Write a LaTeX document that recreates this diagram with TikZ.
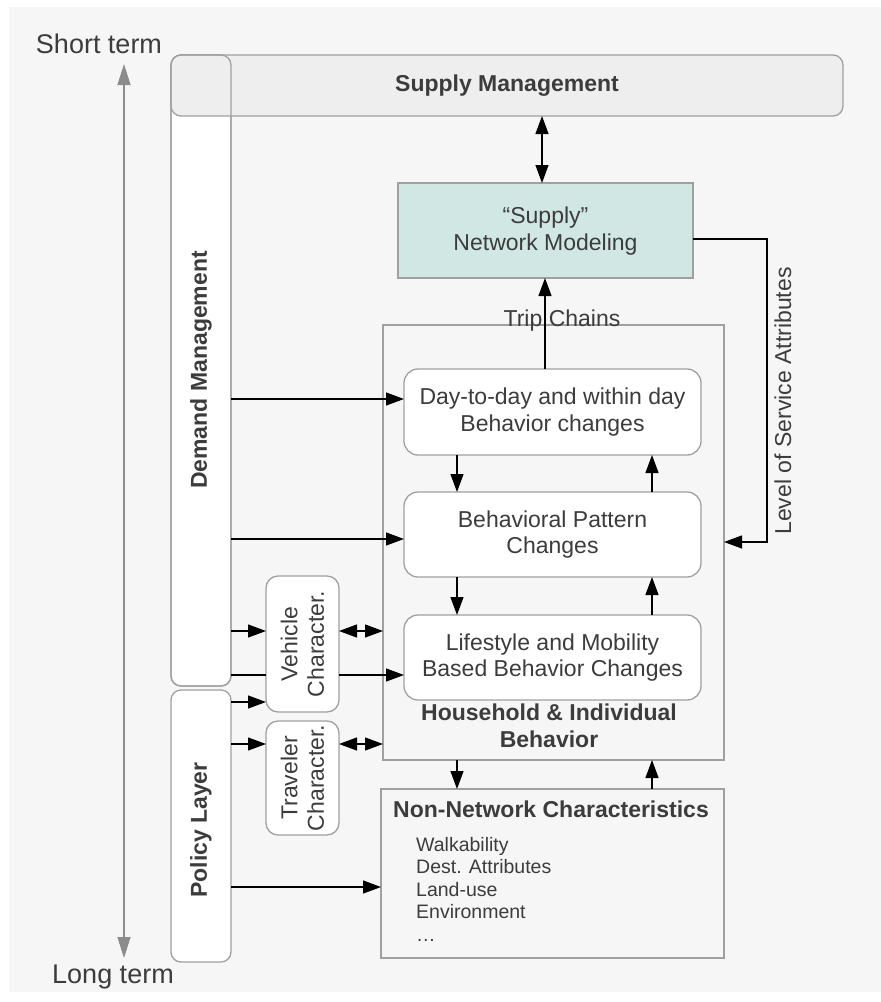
\documentclass[tikz,border=0pt]{standalone}
\usepackage{fontspec}
\setmainfont{Liberation Sans}
\usetikzlibrary{arrows.meta,calc}
\definecolor{bgc}{HTML}{F6F6F6}
\definecolor{smfill}{HTML}{EEEEEE}
\definecolor{netfill}{HTML}{D0E7E3}
\definecolor{bord}{HTML}{A0A0A0}
\definecolor{txt}{HTML}{3C3C3C}
\definecolor{gar}{HTML}{8C8C8C}
\tikzset{
  box/.style={draw=bord,line width=1.3pt,inner sep=0pt,outer sep=0pt,text=txt},
  rbox/.style={box,rounded corners=14pt,fill=white},
  lbl/.style={text=txt,inner sep=0pt,align=center,font=\fontsize{23}{26.5}\selectfont},
  blbl/.style={lbl,font=\fontsize{23}{26.5}\selectfont\bfseries},
  arr/.style={draw=black,line width=1.2pt,-{Triangle[length=18pt,width=13pt]}},
  darr/.style={draw=black,line width=1.2pt,{Triangle[length=18pt,width=13pt]}-{Triangle[length=18pt,width=13pt]}},
  garr/.style={draw=gar,line width=1.2pt,{Triangle[length=21pt,width=13pt]}-{Triangle[length=21pt,width=13pt]}},
}
\begin{document}
\begin{tikzpicture}[x=1pt,y=-1pt]
\useasboundingbox (0,0) rectangle (881,1002);
\fill[bgc] (9,7) rectangle (881,992);
% helper rows / columns
\coordinate (r0) at (0,239);
\coordinate (r1) at (0,399);
\coordinate (r2) at (0,539);
\coordinate (rL) at (0,542);
\coordinate (r3) at (0,631);
\coordinate (r4) at (0,675);
\coordinate (r5) at (0,702);
\coordinate (r6) at (0,744);
\coordinate (r7) at (0,887);
\coordinate (cL) at (457,0);
\coordinate (cR) at (652,0);
\coordinate (cT) at (545,0);
\coordinate (cS) at (542,0);
\coordinate (cLoS) at (767,0);
% time axis
\node[text=txt,inner sep=0pt,font=\fontsize{27}{30}\selectfont] (short) at (99,44) {Short term};
\node[text=txt,inner sep=0pt,font=\fontsize{27}{30}\selectfont] (long) at (113,977) {Long term};
\coordinate (vt) at (124,64);
\coordinate (vb) at (124,958);
\draw[garr] (vb) -- (vt);
% side boxes
\node[box,rounded corners=10pt,fill=white,minimum width=60pt,minimum height=631pt] (demand) at (201,370.5) {};
\node[box,rounded corners=10pt,fill=smfill,minimum width=672pt,minimum height=61pt] (supply) at (507,85.5) {};
\draw[bord,line width=1.3pt,rounded corners=10pt] (171,55) rectangle (231,686);
\node[blbl] at (supply.center) {Supply Management};
\node[blbl,rotate=90] at (201,370) {Demand Management};
\node[box,rounded corners=10pt,fill=white,minimum width=60pt,minimum height=272pt] (policy) at (201,826) {};
\node[blbl,rotate=90] at (201,830) {Policy Layer};
% network modeling
\node[box,fill=netfill,minimum width=295pt,minimum height=95pt] (net) at (545.5,230.5) {};
\node[lbl] at (545.5,231) {“Supply”\\Network Modeling};
% household
\node[box,minimum width=341pt,minimum height=435pt] (hh) at (553.5,542.5) {};
\node[rbox,minimum width=297pt,minimum height=86pt] (day) at (552.5,412) {};
\node[lbl] at (day.center) {Day-to-day and within day\\Behavior changes};
\node[rbox,minimum width=297pt,minimum height=85pt] (beh) at (552.5,534.5) {};
\node[lbl] at (beh.center) {Behavioral Pattern\\Changes};
\node[rbox,minimum width=297pt,minimum height=85pt] (life) at (552.5,657.5) {};
\node[lbl] at (life.center) {Lifestyle and Mobility\\Based Behavior Changes};
\node[blbl] at (549,726) {Household \& Individual\\Behavior};
% characteristics boxes
\node[rbox,rounded corners=12pt,minimum width=73pt,minimum height=136pt] (veh) at (302.5,644) {};
\node[lbl,rotate=90] at (veh.center) {Vehicle\\Character.};
\node[rbox,rounded corners=12pt,minimum width=73pt,minimum height=114pt] (trav) at (302.5,778) {};
\node[lbl,rotate=90] at (trav.center) {Traveler\\Character.};
% non-network
\node[box,minimum width=343pt,minimum height=169pt] (nonnet) at (552.5,873.5) {};
\node[blbl] at (551,809) {Non-Network Characteristics};
\node[text=txt,inner sep=0pt,align=left,anchor=north west,font=\fontsize{19.5}{22.5}\selectfont] at (416,837) {Walkability\\Dest. Attributes\\Land-use\\Environment\\\dots};
% connectors
\draw[darr] (supply.south -| cS) -- (net.north -| cS);
\draw[arr] (day.north -| cT) -- (net.south -| cT);
\node[lbl] (trip) at (562,320.5) {Trip Chains};
\draw[arr] (day.south -| cL) -- (beh.north -| cL);
\draw[arr] (beh.north -| cR) -- (day.south -| cR);
\draw[arr] (beh.south -| cL) -- (life.north -| cL);
\draw[arr] (life.north -| cR) -- (beh.south -| cR);
\draw[arr] (hh.south -| cL) -- (nonnet.north -| cL);
\draw[arr] (nonnet.north -| cR) -- (hh.south -| cR);
\draw[arr] (net.east |- r0) -- (cLoS |- r0) -- (cLoS |- rL) -- (hh.east |- rL);
\node[lbl,rotate=90] at (783,401) {Level of Service Attributes};
\draw[arr] (demand.east |- r1) -- (day.west |- r1);
\draw[arr] (demand.east |- r2) -- (beh.west |- r2);
\draw[arr] (demand.east |- r3) -- (veh.west |- r3);
\draw[line width=1.2pt] (demand.east |- r4) -- (veh.west |- r4);
\draw[arr] (veh.east |- r4) -- (life.west |- r4);
\draw[darr] (veh.east |- r3) -- (hh.west |- r3);
\draw[arr] (policy.east |- r5) -- (veh.west |- r5);
\draw[arr] (policy.east |- r6) -- (trav.west |- r6);
\draw[darr] (trav.east |- r6) -- (hh.west |- r6);
\draw[arr] (policy.east |- r7) -- (nonnet.west |- r7);
\end{tikzpicture}
\end{document}
